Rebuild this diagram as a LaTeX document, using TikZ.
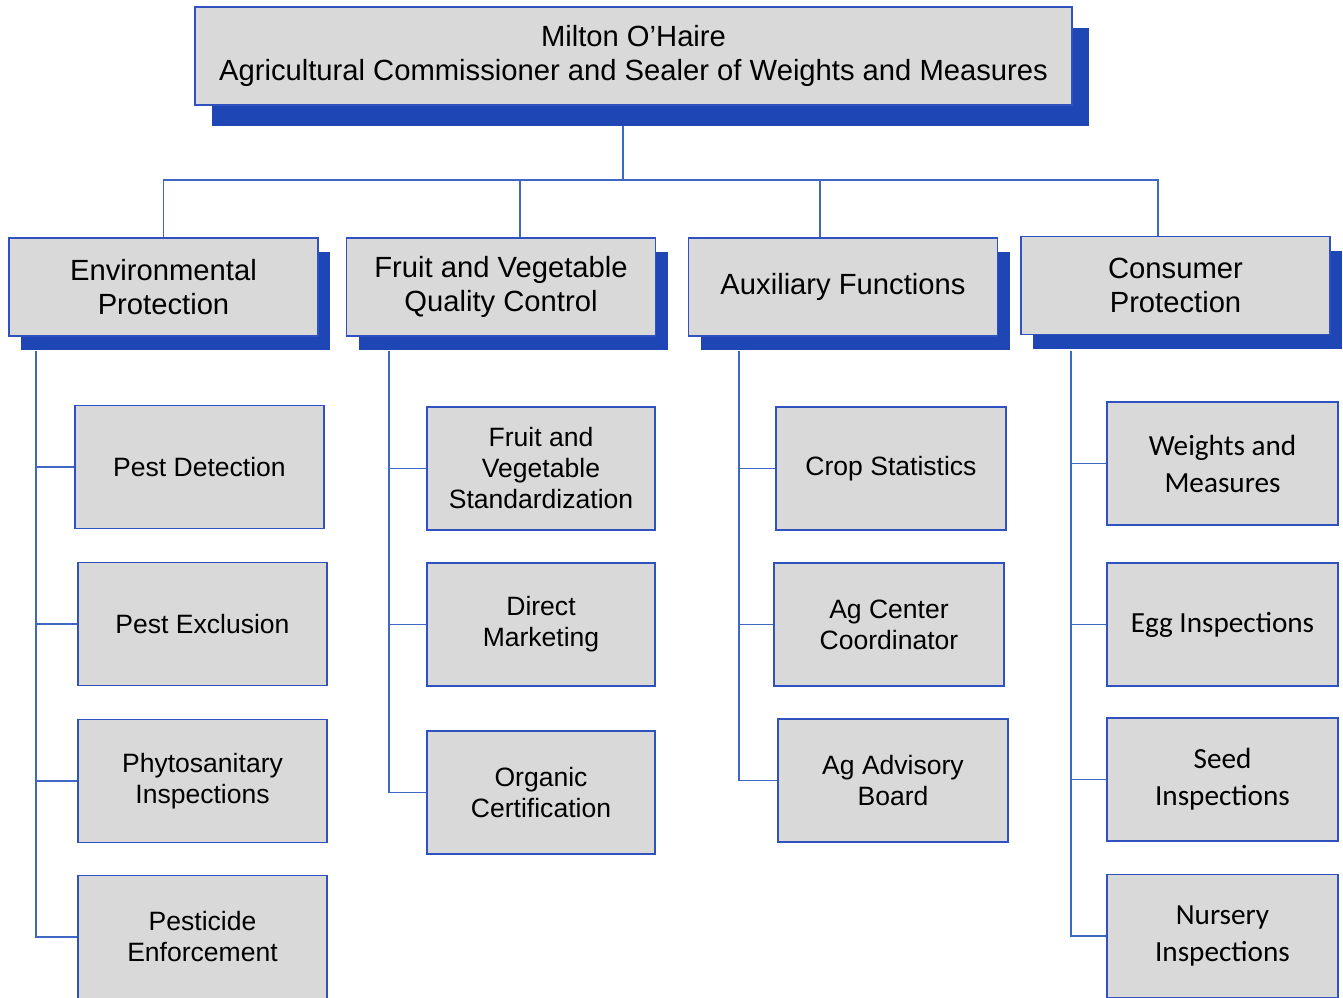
\documentclass[tikz,border=0pt]{standalone}
\usepackage{fontspec}
\setmainfont{Liberation Sans}
\newfontfamily\calibrifont{Carlito}
\usetikzlibrary{shadows, backgrounds}

\definecolor{boxgray}{RGB}{217,217,217}
\definecolor{boxline}{RGB}{47,82,190}
\definecolor{shadowblue}{RGB}{31,70,181}
\definecolor{linkblue}{RGB}{62,104,196}

\begin{document}
\begin{tikzpicture}[
    x=0.75pt, y=-0.75pt,
    chief/.style={draw=boxline, fill=boxgray, line width=0.8pt, minimum width=877*0.75pt, minimum height=98*0.75pt, align=center, font=\fontsize{21.9}{25.5}\selectfont, drop shadow={shadow xshift=12.4pt, shadow yshift=-15.8pt, fill=shadowblue, opacity=1}},
    division/.style={draw=boxline, fill=boxgray, line width=0.8pt, minimum width=309*0.75pt, minimum height=98*0.75pt, align=center, font=\fontsize{21.9}{25.5}\selectfont, drop shadow={shadow xshift=9pt, shadow yshift=-10.5pt, fill=shadowblue, opacity=1}},
    subbox/.style={draw=boxline, fill=boxgray, line width=1.1pt, minimum width=#1*0.75pt, minimum height=123*0.75pt, align=center, font=\fontsize{19.9}{23.25}\selectfont},
    subboxc/.style={subbox=#1, font=\calibrifont\fontsize{21.9}{27.75}\selectfont},
    link/.style={draw=linkblue, line width=1.1pt}
]
\useasboundingbox (0,0) rectangle (1343,997);

% --- Jefe ---
\node[chief] (chief) at (633.5,56) {Milton O’Haire\\Agricultural Commissioner and Sealer of Weights and Measures};

% --- Divisiones ---
\node[division] (env) at (163.5,287) {Environmental\\Protection};
\node[division] (fv) at (501,287) {Fruit and Vegetable\\Quality Control};
\node[division] (aux) at (843,287) {Auxiliary Functions};
\node[division] (cons) at (1175.5,285.5) {Consumer\\Protection};

% --- Environmental Protection ---
\node[subbox=249] (pd) at (199.5,467) {Pest Detection};
\node[subbox=249] (pe) at (202.5,624) {Pest Exclusion};
\node[subbox=249] (ph) at (202.5,781) {Phytosanitary\\Inspections};
\node[subbox=249] (pen) at (202.5,937) {Pesticide\\Enforcement};

% --- Fruit and Vegetable Quality Control ---
\node[subbox=228] (fvs) at (541,468.5) {Fruit and\\Vegetable\\Standardization};
\node[subbox=228] (dm) at (541,624.5) {Direct\\Marketing};
\node[subbox=228] (oc) at (541,792.5) {Organic\\Certification};

% --- Auxiliary Functions ---
\node[subbox=230] (cs) at (891,468.5) {Crop Statistics};
\node[subbox=230] (acc) at (889,624.5) {Ag Center\\Coordinator};
\node[subbox=230] (aab) at (893,780.5) {Ag Advisory\\Board};

% --- Consumer Protection ---
\node[subboxc=231] (wm) at (1222.5,463.5) {Weights and\\Measures};
\node[subboxc=231] (egg) at (1222.5,624.5) {Egg Inspections};
\node[subboxc=231] (seed) at (1222.5,779.5) {Seed\\Inspections};
\node[subboxc=231] (nur) at (1222.5,936) {Nursery\\Inspections};

% --- Conexiones ---
\coordinate (bus) at (623,180);
\coordinate (envsp) at (36,351);
\coordinate (fvsp) at (389,351);
\coordinate (auxsp) at (739,351);
\coordinate (conssp) at (1071,351);

\begin{scope}[on background layer]
\draw[link] (chief.south -| bus) -- (bus);
\draw[link] (env.north) |- (bus);
\draw[link] ([xshift=14.25pt]fv.north) |- (bus);
\draw[link] ([xshift=-17.25pt]aux.north) |- (bus);
\draw[link] ([xshift=-13.1pt]cons.north) |- (bus);

\foreach \c in {pd,pe,ph,pen} \draw[link] (envsp) |- (\c.west);
\foreach \c in {fvs,dm,oc} \draw[link] (fvsp) |- (\c.west);
\foreach \c in {cs,acc,aab} \draw[link] (auxsp) |- (\c.west);
\foreach \c in {wm,egg,seed,nur} \draw[link] (conssp) |- (\c.west);
\end{scope}

\end{tikzpicture}
\end{document}
